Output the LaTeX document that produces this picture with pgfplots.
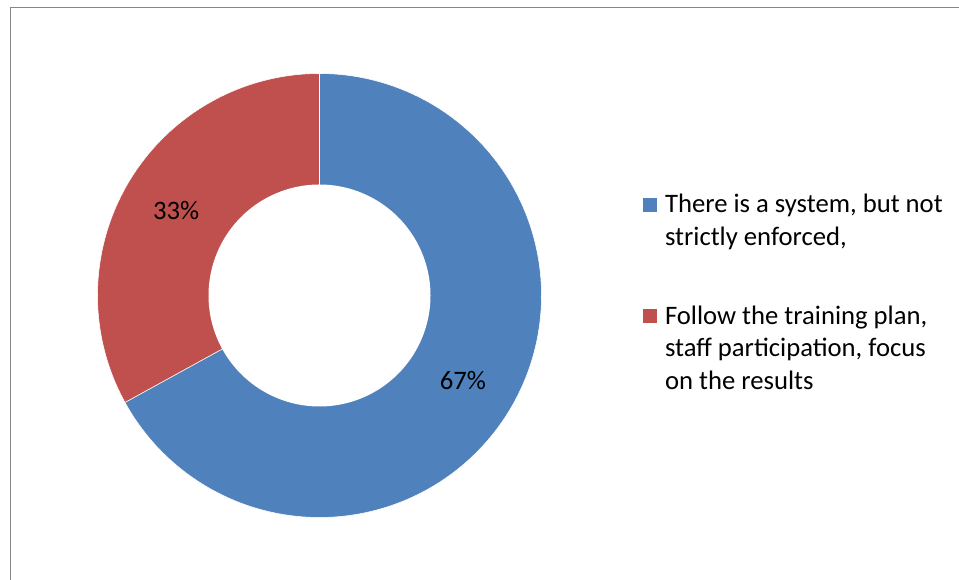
\documentclass[border=0pt]{standalone}
\usepackage{pgfplots}
\pgfplotsset{compat=1.18}
\usepackage{pgfplotstable}
\usepackage{fontspec}
\setmainfont{Carlito}
\definecolor{blueC}{HTML}{4F81BD}
\definecolor{redC}{HTML}{C0504D}
\definecolor{frameC}{HTML}{868686}
\pgfplotstableread{
label value
A 67
B 33
}\piedata
\begin{document}
\begin{tikzpicture}[x=0.75pt,y=0.75pt,font=\fontsize{20}{24.3}\selectfont]
\pgfplotstablegetelem{0}{value}\of\piedata \let\va\pgfplotsretval
\pgfplotstablegetelem{1}{value}\of\piedata \let\vb\pgfplotsretval
\pgfmathsetmacro\afrac{\va/(\va+\vb)}
\pgfmathsetmacro\aend{90-360*\afrac}
\pgfmathsetmacro\bend{\aend+360}
\pgfmathsetmacro\amid{(90+\aend)/2}
\pgfmathsetmacro\bmid{(90+\bend)/2}
\draw[frameC, line width=1pt] (10.7,0) -- (10.7,572.2) -- (959,572.2);
\coordinate (C) at (319.5,284.5);
\begin{axis}[
  at={(C)}, anchor=center,
  scale only axis, width=366.3pt, height=366.3pt,
  xmin=-1.1,xmax=1.1,ymin=-1.1,ymax=1.1,
  hide axis, clip=false,
  legend style={at={(1.163,0.7156)}, anchor=north west, draw=none, fill=none,
    inner sep=0pt, outer sep=0pt, row sep=65pt, column sep=5.8pt,
    font=\fontsize{20}{24.3}\selectfont, nodes={inner sep=0pt}},
  legend cell align=left,
  legend image code/.code={\fill[#1,draw=none] (0pt,-7pt) rectangle (10.5pt,3.5pt);},
]
\addplot[fill=blueC, draw=white, line width=0.4pt, domain=\aend:90, samples=150, variable=\t] ({cos(\t)},{sin(\t)}) -- (axis cs:0,0) -- cycle;
\addlegendentry{\begin{tabular}[t]{@{}l@{}}There is a system, but not\\ strictly enforced,\end{tabular}}
\addplot[fill=redC, draw=white, line width=0.4pt, domain=90:\bend, samples=100, variable=\t] ({cos(\t)},{sin(\t)}) -- (axis cs:0,0) -- cycle;
\addlegendentry{\begin{tabular}[t]{@{}l@{}}Follow the training plan,\\ staff participation, focus\\ on the results\end{tabular}}
\addplot[fill=white, draw=none, domain=0:360, samples=200, variable=\t, forget plot] ({0.5*cos(\t)},{0.5*sin(\t)}) -- cycle;
\node at (axis cs:{0.75*cos(\bmid)},{0.75*sin(\bmid)}) {\vb\%};
\node at (axis cs:{0.75*cos(\amid)},{0.75*sin(\amid)}) {\va\%};
\end{axis}
\pgfresetboundingbox
\useasboundingbox (0,0) rectangle (959,580);
\end{tikzpicture}
\end{document}
